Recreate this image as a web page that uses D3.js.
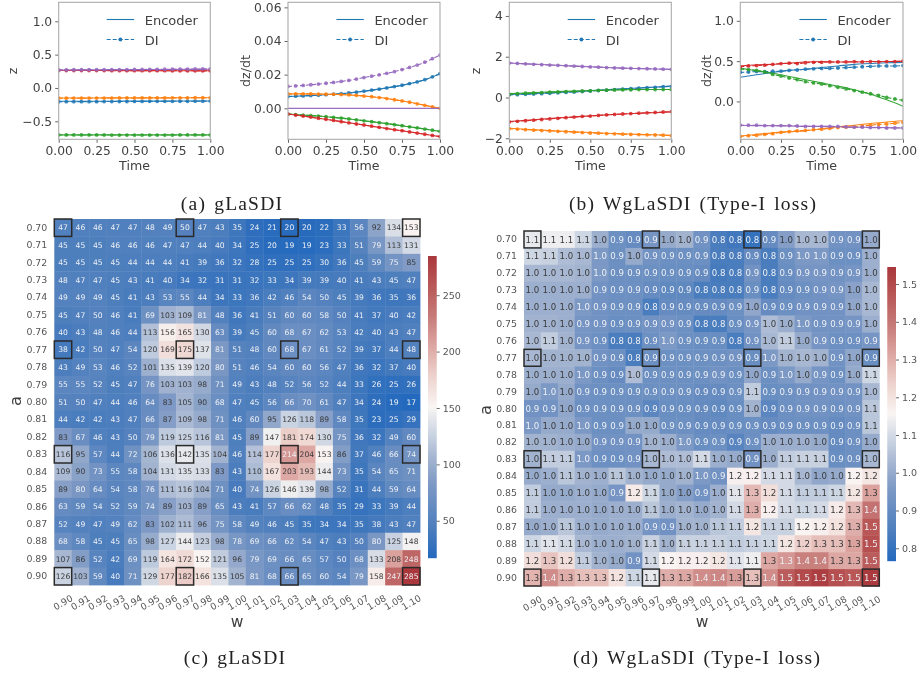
<!DOCTYPE html>
<html><head><meta charset="utf-8">
<style>html,body{margin:0;padding:0;background:#fff}svg{display:block;filter:blur(.35px)}text{font-family:"DejaVu Sans",sans-serif}</style>
<script src="https://cdn.jsdelivr.net/npm/d3@7/dist/d3.min.js"></script></head><body>
<svg id="c" width="920" height="675"></svg>
<script>
// ---------- data ----------
const t21=[0,.05,.1,.15,.2,.25,.3,.35,.4,.45,.5,.55,.6,.65,.7,.75,.8,.85,.9,.95,1];
const t11=[0,.1,.2,.3,.4,.5,.6,.7,.8,.9,1];
const colors=["#1f77b4","#ff7f0e","#2ca02c","#d62728","#9467bd"];
const timeTicks=[0,.25,.5,.75,1];

const a1Enc=[
[-.200,-.200,-.199,-.199,-.198,-.198,-.197,-.197,-.196,-.196,-.195],
[-.150,-.150,-.150,-.149,-.149,-.148,-.148,-.148,-.147,-.147,-.147],
[-.703,-.703,-.703,-.703,-.703,-.703,-.703,-.703,-.703,-.703,-.703],
[.262,.262,.261,.261,.261,.260,.260,.259,.259,.258,.258],
[.270,.271,.272,.273,.274,.275,.276,.277,.278,.279,.280]];
const a1DI=[
[-.207,-.206,-.206,-.205,-.205,-.205,-.204,-.204,-.203,-.203,-.202,-.202,-.201,-.201,-.200,-.200,-.199,-.199,-.198,-.198,-.197],
[-.153,-.153,-.152,-.152,-.152,-.151,-.151,-.151,-.150,-.150,-.150,-.149,-.149,-.149,-.149,-.148,-.148,-.148,-.147,-.147,-.147],
[-.705,-.705,-.705,-.705,-.705,-.705,-.705,-.706,-.706,-.706,-.706,-.706,-.706,-.706,-.706,-.706,-.705,-.705,-.705,-.705,-.705],
[.262,.262,.262,.261,.261,.261,.261,.260,.260,.260,.260,.260,.259,.259,.259,.258,.258,.258,.257,.257,.257],
[.272,.272,.273,.273,.274,.274,.275,.275,.276,.276,.277,.278,.279,.280,.281,.282,.283,.284,.285,.286,.287]];
const a2Enc=[
[.0070,.0074,.0078,.0084,.0091,.0102,.0114,.0129,.0147,.0170,.0206],
[.0086,.0086,.0085,.0083,.0080,.0073,.0064,.0051,.0036,.0018,.0000],
[-.0034,-.0040,-.0046,-.0054,-.0063,-.0074,-.0085,-.0097,-.0110,-.0123,-.0137],
[-.0034,-.0046,-.0059,-.0072,-.0086,-.0099,-.0113,-.0127,-.0140,-.0154,-.0168],
[0,0,0,0,0,0,0,0,0,0,0]];
const a2DI=[
[.0070,.0072,.0074,.0076,.0078,.0081,.0084,.0087,.0091,.0096,.0102,.0108,.0114,.0121,.0129,.0137,.0147,.0157,.0170,.0187,.0206],
[.0086,.0086,.0086,.0086,.0085,.0084,.0083,.0082,.0080,.0077,.0073,.0069,.0064,.0058,.0051,.0044,.0036,.0027,.0018,.0008,.0000],
[-.0034,-.0037,-.0040,-.0043,-.0046,-.0050,-.0054,-.0058,-.0063,-.0068,-.0074,-.0079,-.0085,-.0091,-.0097,-.0103,-.0110,-.0116,-.0123,-.0130,-.0137],
[-.0034,-.0040,-.0046,-.0052,-.0059,-.0065,-.0072,-.0079,-.0086,-.0093,-.0099,-.0106,-.0113,-.0120,-.0127,-.0133,-.0140,-.0147,-.0154,-.0161,-.0168],
[.0130,.0133,.0136,.0140,.0144,.0149,.0154,.0160,.0166,.0174,.0183,.0191,.0199,.0208,.0218,.0230,.0243,.0257,.0274,.0295,.0316]];
const b1Enc=[
[.15,.18,.21,.25,.29,.33,.38,.43,.47,.51,.56],
[-1.51,-1.56,-1.60,-1.64,-1.68,-1.72,-1.75,-1.78,-1.81,-1.83,-1.85],
[.19,.22,.26,.29,.32,.34,.36,.38,.39,.39,.39],
[-1.18,-1.12,-1.06,-1.00,-.95,-.90,-.85,-.81,-.77,-.74,-.71],
[1.69,1.65,1.62,1.58,1.54,1.51,1.47,1.44,1.42,1.40,1.38]];
const b1DI=[
[.13,.14,.16,.17,.19,.21,.23,.25,.27,.29,.32,.34,.36,.39,.41,.44,.46,.48,.50,.53,.55],
[-1.53,-1.55,-1.58,-1.60,-1.62,-1.64,-1.66,-1.68,-1.70,-1.72,-1.74,-1.75,-1.77,-1.78,-1.80,-1.81,-1.82,-1.83,-1.84,-1.85,-1.87],
[.17,.19,.21,.22,.24,.26,.27,.29,.30,.32,.33,.35,.36,.37,.38,.38,.39,.39,.39,.39,.39],
[-1.20,-1.17,-1.14,-1.11,-1.08,-1.05,-1.02,-.99,-.96,-.93,-.91,-.88,-.85,-.83,-.81,-.79,-.77,-.75,-.73,-.71,-.69],
[1.69,1.67,1.65,1.63,1.61,1.59,1.58,1.56,1.54,1.52,1.50,1.49,1.47,1.45,1.44,1.43,1.42,1.41,1.40,1.39,1.38]];
const b2Enc=[
[.30,.33,.36,.385,.40,.42,.44,.46,.47,.48,.485],
[-.43,-.41,-.39,-.375,-.365,-.34,-.315,-.295,-.275,-.255,-.24],
[.415,.38,.35,.31,.27,.23,.19,.145,.09,.02,-.06],
[.44,.455,.46,.475,.49,.495,.49,.49,.495,.495,.50],
[-.295,-.30,-.30,-.305,-.31,-.31,-.315,-.32,-.32,-.325,-.33]];
const b2DI=[
[.36,.365,.37,.37,.375,.375,.385,.39,.40,.405,.41,.41,.415,.42,.425,.43,.435,.44,.44,.44,.445],
[-.435,-.425,-.42,-.41,-.40,-.385,-.375,-.365,-.36,-.35,-.345,-.335,-.325,-.32,-.315,-.305,-.295,-.285,-.28,-.27,-.26],
[.40,.395,.385,.365,.335,.315,.29,.27,.245,.23,.215,.195,.175,.155,.135,.115,.095,.075,.05,.03,.015],
[.43,.44,.445,.45,.46,.47,.475,.47,.48,.485,.485,.49,.49,.49,.495,.49,.495,.49,.495,.495,.50],
[-.295,-.295,-.295,-.30,-.30,-.30,-.30,-.305,-.31,-.31,-.31,-.31,-.31,-.315,-.32,-.32,-.325,-.325,-.33,-.33,-.33]];

const aLabels=["0.70","0.71","0.72","0.73","0.74","0.75","0.76","0.77","0.78","0.79","0.80","0.81","0.82","0.83","0.84","0.85","0.86","0.87","0.88","0.89","0.90"];
const wLabels=["0.90","0.91","0.92","0.93","0.94","0.95","0.96","0.97","0.98","0.99","1.00","1.01","1.02","1.03","1.04","1.05","1.06","1.07","1.08","1.09","1.10"];
const boxA=["0.70","0.77","0.83","0.90"];
const boxW=["0.90","0.97","1.03","1.10"];

const matC=[
[47,46,46,47,47,48,49,50,47,43,35,24,21,20,20,22,33,56,92,134,153],
[45,45,45,46,46,46,47,47,44,40,34,25,20,19,19,23,33,51,79,113,131],
[45,45,45,45,44,44,44,41,39,36,32,28,25,25,25,30,36,45,59,75,85],
[48,47,47,45,43,41,40,34,32,31,31,32,33,34,39,39,40,41,43,45,47],
[49,49,49,45,41,43,53,55,44,34,33,36,42,46,54,50,45,39,36,35,36],
[45,47,50,46,41,69,103,109,81,48,36,41,51,60,60,58,50,41,37,40,42],
[40,43,48,46,44,113,156,165,130,63,39,45,60,68,67,62,53,42,40,43,47],
[38,42,50,47,54,120,169,175,137,81,51,48,60,68,67,61,52,39,37,44,48],
[43,49,53,46,52,101,135,139,120,80,51,46,54,60,60,56,47,36,32,37,40],
[55,55,52,45,47,76,103,103,98,71,49,43,48,52,56,52,44,33,26,25,26],
[51,50,47,44,46,64,83,105,90,68,47,45,56,66,70,61,47,34,24,19,17],
[44,42,42,43,47,66,87,109,98,71,46,60,95,126,118,89,58,35,23,25,29],
[83,67,46,43,50,79,119,125,116,81,45,89,147,181,174,130,75,36,32,49,60],
[116,95,57,44,72,106,136,142,135,104,46,114,177,214,204,153,86,37,46,66,74],
[109,90,73,55,58,104,131,135,133,83,43,110,167,203,193,144,73,35,54,65,71],
[89,80,64,54,58,76,111,116,104,71,40,74,126,146,139,98,52,31,44,59,64],
[63,59,54,52,59,74,89,103,89,65,43,41,57,66,62,48,35,29,33,39,44],
[52,49,47,49,62,83,102,111,96,75,58,49,46,45,35,34,34,35,38,43,47],
[68,58,45,45,65,98,127,144,123,98,78,69,66,62,54,47,43,50,80,125,148],
[107,86,52,42,69,119,164,172,152,121,96,79,69,66,65,57,50,68,133,208,248],
[126,103,59,40,71,129,177,182,166,135,105,81,68,66,65,60,54,79,158,247,285]];

const matD=[
[1.13,1.14,1.14,1.09,1.01,.92,.90,.94,1.00,1.02,.93,.84,.82,.80,.90,.97,1.03,1.03,.93,.93,1.00],
[1.09,1.08,1.04,1.03,.955,.92,1.00,.93,.92,.92,.92,.84,.84,.90,.84,.92,.955,.955,.92,.92,1.01],
[1.03,1.03,1.03,1.02,.955,.92,.92,.92,.91,.91,.90,.83,.84,.93,.84,.91,.94,.94,.93,.94,1.01],
[1.01,1.01,1.01,1.01,.93,.92,.92,.90,.89,.89,.84,.84,.84,.91,.84,.90,.92,.93,.94,.98,1.03],
[1.01,1.01,1.01,.955,.93,.92,.92,.84,.90,.90,.90,.90,.92,.99,.90,.92,.93,.93,.93,.99,1.03],
[1.02,1.02,1.01,.94,.93,.91,.92,.93,.93,.92,.84,.84,.91,.94,1.04,1.01,.955,.93,.93,.94,1.01],
[1.03,1.07,1.02,.94,.92,.84,.84,.92,.955,.92,.91,.91,.84,.93,1.03,1.07,1.00,.94,.92,.92,.94],
[1.03,1.02,1.02,1.02,.93,.92,.84,.92,.92,.92,.92,.92,.93,.91,.955,1.02,1.03,1.02,.93,.99,.91],
[1.01,1.01,1.01,.955,.92,.90,1.04,.92,.92,.92,.92,.93,.92,.99,.92,.955,1.00,.94,.92,1.00,1.09],
[1.00,.955,1.00,.93,.92,.92,.92,.92,.92,.92,.90,.90,.92,1.07,.91,.92,.93,.93,.93,.93,1.03],
[.93,.93,.99,.92,.92,.92,.92,.88,.91,.91,.90,.89,.91,1.02,.88,.92,.93,.93,.92,.93,1.06],
[.955,1.00,1.00,.955,.92,.92,1.00,1.00,.92,.92,.90,.90,.91,.92,.90,.92,.92,.92,.90,.92,1.06],
[1.02,1.02,1.01,1.00,.93,.93,.93,1.02,1.01,.955,.91,.92,.87,.92,1.01,1.01,1.01,1.00,.90,.92,1.00],
[1.02,1.07,1.07,.955,.92,.92,.93,1.03,1.04,1.04,1.10,1.01,1.00,.93,1.01,1.07,1.08,1.08,.91,.92,1.03],
[1.00,1.01,1.06,1.02,1.01,1.06,1.02,1.00,1.00,1.02,.955,.93,1.17,1.17,1.10,1.10,1.03,.99,1.00,1.16,1.19],
[1.07,1.00,1.00,1.01,1.00,.94,1.18,1.09,1.00,.97,.93,1.01,1.12,1.28,1.21,1.10,1.07,1.07,1.09,1.19,1.32],
[1.07,1.01,1.01,1.01,1.00,1.01,1.01,1.06,1.01,1.02,1.00,1.02,1.10,1.30,1.17,1.10,1.09,1.10,1.18,1.28,1.41],
[1.00,1.01,1.06,1.01,1.00,1.01,1.01,.94,.93,1.02,1.02,1.06,1.07,1.19,1.08,1.08,1.16,1.17,1.20,1.30,1.47],
[1.09,1.12,1.10,1.03,1.01,1.01,1.02,1.08,1.02,1.08,1.08,1.08,1.07,1.08,1.09,1.19,1.24,1.27,1.27,1.32,1.49],
[1.21,1.26,1.21,1.07,1.02,1.00,.93,1.10,1.16,1.17,1.17,1.19,1.12,1.14,1.31,1.34,1.38,1.38,1.31,1.31,1.46],
[1.29,1.36,1.30,1.27,1.27,1.20,1.09,1.13,1.30,1.31,1.36,1.37,1.33,1.27,1.36,1.46,1.50,1.53,1.49,1.47,1.54]];

const ticksC=[50,100,150,200,250];
const ticksD=[.8,.9,1,1.1,1.2,1.3,1.4,1.5];
const cmapStops=["#2369bd","#4d7ebd","#7f9ac5","#a4b5d1","#cbd4e2","#f9f5f3","#eed3ce","#d99e9a","#c67b79","#b95858","#a9373b"];
const cmapAt=[0,.1,.25,.33,.41,.5,.6,.72,.8,.9,1];

// ---------- drawing ----------
const svg=d3.select("#c");
const ink="#404040";
const g0=svg.append("g");
const cmap=d3.scaleLinear().domain(cmapAt).range(cmapStops).interpolate(d3.interpolateRgb);

function linePanel(cfg){
  const {box:[L,R,T,B],dom,ticks,fmt,ylabel,ylx,enc,di}=cfg;
  const x=d3.scaleLinear().domain([0,1]).range([L,R]);
  const y=d3.scaleLinear().domain(dom).range([B,T]);
  const id="cp"+Math.round(L);
  g0.append("clipPath").attr("id",id).append("rect").attr("x",L).attr("y",T).attr("width",R-L).attr("height",B-T);
  const plot=g0.append("g").attr("clip-path",`url(#${id})`);
  const ln=(xs)=>d3.line().x((d,i)=>x(xs[i])).y(d=>y(d)).curve(d3.curveMonotoneX);
  colors.forEach((c,s)=>{
    plot.append("path").attr("d",ln(t11)(enc[s])).attr("fill","none").attr("stroke",c).attr("stroke-width",1.1).attr("opacity",.95);
    plot.append("path").attr("d",ln(t21)(di[s])).attr("fill","none").attr("stroke",c).attr("stroke-width",1.1).attr("stroke-dasharray","4 2");
    plot.selectAll(null).data(di[s]).join("circle").attr("cx",(d,i)=>x(t21[i])).attr("cy",d=>y(d)).attr("r",1.9).attr("fill",c).attr("opacity",.85);
  });
  const ax=g0.append("g").attr("transform",`translate(0,${B})`).call(d3.axisBottom(x).tickValues(timeTicks).tickFormat(d3.format(".2f")).tickSize(3.5).tickPadding(3));
  const ay=g0.append("g").attr("transform",`translate(${L},0)`).call(d3.axisLeft(y).tickValues(ticks).tickFormat(v=>d3.format(fmt)(v).replace("-","\u2212")).tickSize(3.5).tickPadding(3));
  [ax,ay].forEach(a=>{a.select(".domain").remove();a.selectAll("line").attr("stroke",ink).attr("stroke-width",.8);a.selectAll("text").attr("fill",ink).attr("font-size",12.3).attr("font-family","DejaVu Sans");});
  g0.append("rect").attr("x",L).attr("y",T).attr("width",R-L).attr("height",B-T).attr("fill","none").attr("stroke","#ababab").attr("stroke-width",1.1);
  g0.append("text").attr("x",(L+R)/2).attr("y",170).attr("text-anchor","middle").attr("fill",ink).attr("font-size",12.6).text("Time");
  g0.append("text").attr("transform",`translate(${ylx},71) rotate(-90)`).attr("text-anchor","middle").attr("fill",ink).attr("font-size",12.6).text(ylabel);
  const lx=R-103.6;
  g0.append("line").attr("x1",lx).attr("x2",lx+27.4).attr("y1",19.5).attr("y2",19.5).attr("stroke",colors[0]).attr("stroke-width",1.1);
  g0.append("line").attr("x1",lx).attr("x2",lx+27.4).attr("y1",39.5).attr("y2",39.5).attr("stroke",colors[0]).attr("stroke-width",1.1).attr("stroke-dasharray","4 2");
  g0.append("circle").attr("cx",lx+13.7).attr("cy",39.5).attr("r",1.9).attr("fill",colors[0]);
  g0.append("text").attr("x",lx+38).attr("y",24.5).attr("fill",ink).attr("font-size",13).text("Encoder");
  g0.append("text").attr("x",lx+38).attr("y",44.5).attr("fill",ink).attr("font-size",13).text("DI");
}
linePanel({box:[58.7,210.3,2.3,139.3],dom:[-.77,1.285],ticks:[-.5,0,.5,1],fmt:".1f",ylabel:"z",ylx:17,enc:a1Enc,di:a1DI});
linePanel({box:[288,440,2.3,139.3],dom:[-.0184,.063],ticks:[0,.02,.04,.06],fmt:".2f",ylabel:"dz/dt",ylx:250,enc:a2Enc,di:a2DI});
linePanel({box:[509.3,671.3,2.3,139.3],dom:[-2.05,4.67],ticks:[-2,0,2,4],fmt:"d",ylabel:"z",ylx:480,enc:b1Enc,di:b1DI});
linePanel({box:[740.3,903,2.3,139.3],dom:[-.47,1.23],ticks:[0,.5,1],fmt:".1f",ylabel:"dz/dt",ylx:711,enc:b2Enc,di:b2DI});

function heatPanel(cfg){
  const {box:[L,R,T,B],mat,vmin,vmax,fmt,fs,bar:[bL,bR,bT,bB],ticks,tfmt,alx,aly,wx,wy}=cfg;
  const x=d3.scaleBand().domain(wLabels).range([L,R]);
  const y=d3.scaleBand().domain(aLabels).range([T,B]);
  const pos=d3.scaleLinear().domain([vmin,vmax]).range([0,1]);
  const col=v=>cmap(pos(v));
  const rows=g0.append("g");
  mat.forEach((row,i)=>row.forEach((v,j)=>{
    rows.append("rect").attr("x",x(wLabels[j])).attr("y",y(aLabels[i])).attr("width",x.bandwidth()+.4).attr("height",y.bandwidth()+.4).attr("fill",col(v));
  }));
  mat.forEach((row,i)=>row.forEach((v,j)=>{
    const p=pos(v);
    rows.append("text").attr("x",x(wLabels[j])+x.bandwidth()/2).attr("y",y(aLabels[i])+y.bandwidth()/2).attr("dy",".36em").attr("text-anchor","middle").attr("font-size",fs)
      .attr("fill",(p>.243&&p<.725)?"#3a3a3a":"#eef0f4").text(fmt(v));
  }));
  boxA.forEach(a=>boxW.forEach(w=>{
    g0.append("rect").attr("x",x(w)).attr("y",y(a)).attr("width",x.bandwidth()).attr("height",y.bandwidth()).attr("fill","none").attr("stroke","#2a2a2a").attr("stroke-width",1.5);
  }));
  const ax=g0.append("g").attr("transform",`translate(0,${B})`).call(d3.axisBottom(x).tickSize(0));
  ax.select(".domain").remove();
  ax.selectAll("text").attr("fill","#555").attr("font-size",9.2).attr("font-family","DejaVu Sans").attr("text-anchor","middle");
  ax.selectAll(".tick").each(function(){const t=d3.select(this);const tx=+t.attr("transform").match(/\(([^,]+)/)[1];t.attr("transform",`translate(${tx},0)`);t.select("text").attr("y",0).attr("dy",".35em").attr("transform","translate(0,17.5) rotate(-30)");});
  const ay=g0.append("g").attr("transform",`translate(${L},0)`).call(d3.axisLeft(y).tickSize(0).tickPadding(7));
  ay.select(".domain").remove();
  ay.selectAll("text").attr("fill","#555").attr("font-size",9.4).attr("font-family","DejaVu Sans");
  g0.append("text").attr("transform",`translate(${alx},${aly}) rotate(-90)`).attr("text-anchor","middle").attr("fill",ink).attr("font-size",16.5).text("a");
  g0.append("text").attr("x",wx).attr("y",wy).attr("text-anchor","middle").attr("fill",ink).attr("font-size",15.5).text("w");
  const sc=d3.scaleLinear().domain([vmin,vmax]).range([bB,bT]);
  const steps=d3.range(Math.round(bT),Math.round(bB));
  g0.append("g").selectAll("rect").data(steps).join("rect").attr("x",bL).attr("width",bR-bL).attr("y",d=>d).attr("height",1.2).attr("fill",d=>col(sc.invert(d+.5)));
  const az=g0.append("g").attr("transform",`translate(${bR},0)`).call(d3.axisRight(sc).tickValues(ticks).tickFormat(tfmt).tickSize(3).tickPadding(3));
  az.select(".domain").remove();
  az.selectAll("line").attr("stroke",ink).attr("stroke-width",.8);
  az.selectAll("text").attr("fill","#555").attr("font-size",9.5).attr("font-family","DejaVu Sans");
}
heatPanel({box:[54.3,420,219,585],mat:matC,vmin:17,vmax:285,fmt:d=>String(d),fs:7.6,bar:[428,436.7,255.7,558],ticks:ticksC,tfmt:d3.format("d"),alx:21,aly:401,wx:237,wy:627});
heatPanel({box:[524,879.3,231,586],mat:matD,vmin:.767,vmax:1.546,fmt:d=>d.toFixed(1),fs:8.6,bar:[887.3,896,266.7,560.7],ticks:ticksD,tfmt:d3.format(".1f"),alx:491,aly:410,wx:702,wy:627});

[["(a) gLaSDI",232,209.5],["(b) WgLaSDI (Type-I loss)",693,209.5],["(c) gLaSDI",235,664],["(d) WgLaSDI (Type-I loss)",697,664]].forEach(([s,x,y])=>{
  g0.append("text").attr("x",x).attr("y",y).attr("text-anchor","middle").attr("style","font-family:'Liberation Serif',serif;letter-spacing:1.2px;word-spacing:2px").attr("font-size",19.5).attr("fill","#222").text(s);
});
</script></body></html>
